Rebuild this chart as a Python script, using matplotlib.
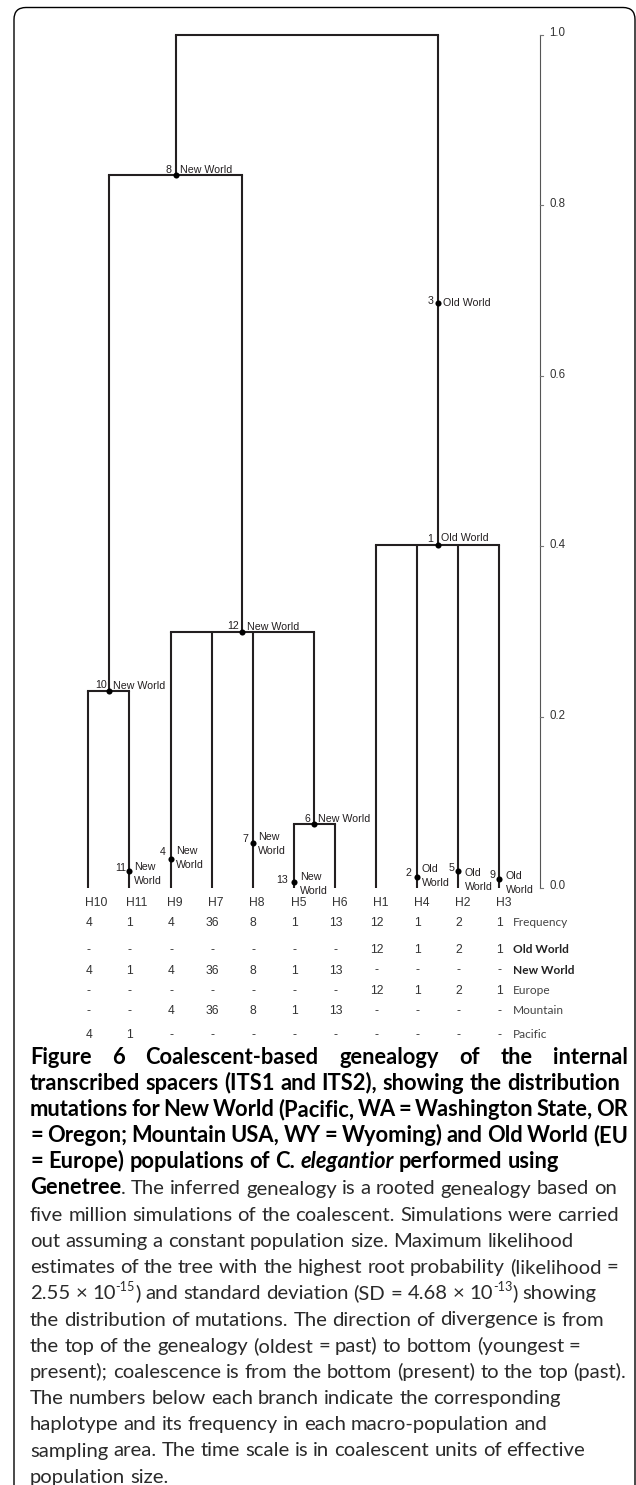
import matplotlib
matplotlib.use("Agg")
import matplotlib.pyplot as plt
from matplotlib import font_manager as fm
from matplotlib import transforms as mtransforms
from matplotlib.patches import FancyBboxPatch

W, H, DPI = 636, 1485, 100

# ---------------- data ----------------
tips = ["H10", "H11", "H9", "H7", "H8", "H5", "H6", "H1", "H4", "H2", "H3"]

node_names = ["root", "n8", "n10", "n12", "n6", "n1"]
node_heights = [1.0, 0.835, 0.231, 0.300, 0.074, 0.402]
node_children = [["n8", "n1"], ["n10", "n12"], ["H10", "H11"],
                 ["H9", "H7", "H8", "n6"], ["H5", "H6"], ["H1", "H4", "H2", "H3"]]

event_ids = [8, 10, 12, 6, 1, 3, 11, 4, 7, 13, 2, 5, 9]
event_branch = ["n8", "n10", "n12", "n6", "n1", "n1", "H11", "H9", "H8", "H5", "H4", "H2", "H3"]
event_heights = [0.835, 0.231, 0.300, 0.074, 0.402, 0.685, 0.019, 0.034, 0.0525, 0.006, 0.012, 0.0197, 0.0103]
event_regions = ["New World", "New World", "New World", "New World", "Old World", "Old World",
                 "New World", "New World", "New World", "New World", "Old World", "Old World", "Old World"]

time_ticks = [0.0, 0.2, 0.4, 0.6, 0.8, 1.0]

row_labels = ["Frequency", "Old World", "New World", "Europe", "Mountain", "Pacific"]
freq = [4, 1, 4, 36, 8, 1, 13, 12, 1, 2, 1]
old_world = [None, None, None, None, None, None, None, 12, 1, 2, 1]
new_world = [4, 1, 4, 36, 8, 1, 13, None, None, None, None]
europe = [None, None, None, None, None, None, None, 12, 1, 2, 1]
mountain = [None, None, 4, 36, 8, 1, 13, None, None, None, None]
pacific = [4, 1, None, None, None, None, None, None, None, None, None]

caption_lines = [
    ([("Figure 6 Coalescent-based genealogy of the internal", "b")], True),
    ([("transcribed spacers (ITS1 and ITS2), showing the distribution", "b")], False),
    ([("mutations for New World (Pacific, WA = Washington State, OR", "b")], True),
    ([("= Oregon; Mountain USA, WY = Wyoming) and Old World (EU", "b")], True),
    ([("= Europe) populations of ", "b"), ("C. ", "b"), ("elegantior", "bi"), (" performed using", "b")], False),
    ([("Genetree", "b"), (". The inferred genealogy is a rooted genealogy based on", "r")], False),
    ([("five million simulations of the coalescent. Simulations were carried", "r")], False),
    ([("out assuming a constant population size. Maximum likelihood", "r")], False),
    ([("estimates of the tree with the highest root probability (likelihood =", "r")], False),
    ([("2.55 \u00d7 10", "r"), ("-15", "s"), (") and standard deviation (SD = 4.68 \u00d7 10", "r"),
      ("-13", "s"), (") showing", "r")], False),
    ([("the distribution of mutations. The direction of divergence is from", "r")], False),
    ([("the top of the genealogy (oldest = past) to bottom (youngest =", "r")], False),
    ([("present); coalescence is from the bottom (present) to the top (past).", "r")], False),
    ([("The numbers below each branch indicate the corresponding", "r")], False),
    ([("haplotype and its frequency in each macro-population and", "r")], False),
    ([("sampling area. The time scale is in coalescent units of effective", "r")], False),
    ([("population size.", "r")], False),
]

# ---------------- layout ----------------
X0, DX = 88.3, 41.1      # pixel x of first tip, pixel spacing of tips
Y0, DY = 887.5, 852.8    # pixel y (from top) of time 0, pixels per time unit
AXIS_X = 11.0            # scale bar position in tip units

INK = "#231f20"
TREE_FONT = "Liberation Sans"
FS_T = 7.7               # tree label size (pt)
CAP_T = 0.716 * FS_T * DPI / 72.0

num_off = {8: (-4, 6), 10: (-2.3, 6.7), 12: (-3.7, 6), 6: (-3.5, 6.6), 1: (-4.3, 7), 3: (-4.6, 3.3),
           11: (-3.3, 4.3), 4: (-4.7, 7.6), 7: (-4.6, 4.4), 13: (-5.7, 3.3), 2: (-5.3, 4.6),
           5: (-4, 4), 9: (-4.3, 4.7)}
name_off = {8: (4, 6), 10: (3.7, 5.7), 12: (5, 5.4), 6: (4.1, 6), 1: (3.7, 7.7), 3: (5.7, 1.3),
            11: (5, 5, -9), 4: (5.3, 8.3, -5.7), 7: (5.4, 6.7, -7.3), 13: (6, 6.6, -7.7),
            2: (4.7, 9, -5.4), 5: (6.3, -1, -15), 9: (6.4, 3.7, -10.3)}

fig = plt.figure(figsize=(W / DPI, H / DPI), dpi=DPI)
fig.patch.set_facecolor("white")
ax = fig.add_axes([0, 0, 1, 1])
ax.set_xlim(-X0 / DX, (W - X0) / DX)
ax.set_ylim((Y0 - H) / DY, Y0 / DY)
ax.axis("off")

PX = mtransforms.Affine2D().scale(1, -1).translate(0, H)   # (x, y-from-top) px -> display
XPX = mtransforms.blended_transform_factory(ax.transData, PX)

# ---------------- tree ----------------
xpos = {t: float(i) for i, t in enumerate(tips)}
hgt = {t: 0.0 for t in tips}
for n, h in zip(node_names, node_heights):
    hgt[n] = h
for n, ch in reversed(list(zip(node_names, node_children))):
    xs = [xpos[c] for c in ch]
    xpos[n] = (min(xs) + max(xs)) / 2.0

LW = 1.5
for n, ch in zip(node_names, node_children):
    xs = [xpos[c] for c in ch]
    ax.plot([min(xs), max(xs)], [hgt[n], hgt[n]], color=INK, lw=LW, solid_capstyle="projecting")
    for c in ch:
        ax.plot([xpos[c], xpos[c]], [hgt[c], hgt[n]], color=INK, lw=LW, solid_capstyle="butt")

for eid, br, h, reg in zip(event_ids, event_branch, event_heights, event_regions):
    x = xpos[br]
    ax.plot(x, h, "o", ms=4.4, color="black", mec="none", zorder=5)
    ndx, ndy = num_off[eid]
    ax.annotate(str(eid), (x, h), xytext=(ndx, ndy - CAP_T / 2), textcoords="offset pixels",
                ha="right", va="baseline", fontsize=FS_T, family=TREE_FONT, color=INK)
    lay = name_off[eid]
    if len(lay) == 2:
        ax.annotate(reg, (x, h), xytext=(lay[0], lay[1] - CAP_T / 2), textcoords="offset pixels",
                    ha="left", va="baseline", fontsize=FS_T, family=TREE_FONT, color=INK)
    else:
        w1, w2 = reg.split(" ")
        ax.annotate(w1, (x, h), xytext=(lay[0], lay[1] - CAP_T / 2), textcoords="offset pixels",
                    ha="left", va="baseline", fontsize=FS_T, family=TREE_FONT, color=INK)
        ax.annotate(w2, (x, h), xytext=(lay[0], lay[2] - CAP_T / 2), textcoords="offset pixels",
                    ha="left", va="baseline", fontsize=FS_T, family=TREE_FONT, color=INK)

# ---------------- time scale ----------------
ax.plot([AXIS_X, AXIS_X], [min(time_ticks), max(time_ticks)], color="#555555", lw=0.8)
for t in time_ticks:
    ax.plot([AXIS_X, AXIS_X + 3.0 / DX], [t, t], color="#777777", lw=0.8)
    ax.annotate(f"{t:.1f}", (AXIS_X, t), xytext=(8.6, -1.7), textcoords="offset pixels",
                ha="left", va="baseline", fontsize=8.3, family=TREE_FONT, color="#333333")

# ---------------- tip labels and table ----------------
FS_N = 8.7
for i, t in enumerate(tips):
    ax.text(xpos[t] - 3.2 / DX, 906.0, t, transform=XPX, ha="left", va="baseline",
            fontsize=FS_N, family=TREE_FONT, color="#333333")

rows = [freq, old_world, new_world, europe, mountain, pacific]
row_y = [921.7, 948.3, 969.2, 990.0, 1010.0, 1033.8]
row_bold = [False, True, True, False, False, False]
for vals, yc, lab, bold in zip(rows, row_y, row_labels, row_bold):
    for i, v in enumerate(vals):
        s = "-" if v is None else str(v)
        ax.text(xpos[tips[i]] + 0.5 / DX, yc + 4.3, s, transform=XPX, ha="center", va="baseline",
                fontsize=FS_N, family=TREE_FONT, color="#333333")
    fig.text(513, yc + 4.3, lab, transform=PX, ha="left", va="baseline", fontsize=8.6,
             family="Lato", weight="bold" if bold else "normal", color="#222222" if bold else "#444444")

# ---------------- caption ----------------
def make_fp(kind, fs_h, fs_b):
    if kind == "b":
        return fm.FontProperties(family="Lato", weight="bold", size=fs_h)
    if kind == "bi":
        return fm.FontProperties(family="Lato", weight="bold", style="italic", size=fs_h)
    if kind == "s":
        return fm.FontProperties(family="Lato", weight="normal", size=fs_b * 0.62)
    return fm.FontProperties(family="Lato", weight="normal", size=fs_b)

renderer = fig.canvas.get_renderer()

def tw(s, fp):
    return renderer.get_text_width_height_descent(s, fp, ismath=False)[0]

CAP_X0 = 30.0
fs_head = 10.0 * 590.0 / tw(caption_lines[1][0][0][0], make_fp("b", 10, 10))
fp10 = make_fp("r", 10, 10)
fs_body = 10.0 * min(597.0 / tw(caption_lines[6][0][0][0], fp10),
                     599.0 / tw(caption_lines[8][0][0][0], fp10),
                     601.0 / tw(caption_lines[12][0][0][0], fp10),
                     594.0 / tw(caption_lines[10][0][0][0], fp10))

BASE0, LEAD = 1063.5, 26.2
for li, (segs, justify) in enumerate(caption_lines):
    baseline = BASE0 + li * LEAD
    words = [[]]
    for text, kind in segs:
        parts = text.split(" ")
        for i, p in enumerate(parts):
            if i > 0:
                words.append([])
            if p:
                words[-1].append((p, kind))
    words = [w for w in words if w]
    ww = [sum(tw(p, make_fp(k, fs_head, fs_body)) for p, k in w) for w in words]
    gap = None
    if justify and len(words) > 1:
        gap = (628.0 - CAP_X0 - sum(ww)) / (len(words) - 1)
    x = CAP_X0
    for wi, w in enumerate(words):
        for p, k in w:
            fp = make_fp(k, fs_head, fs_body)
            dy = 0.42 * fs_body * DPI / 72.0 if k == "s" else 0.0
            col = "black" if k in ("b", "bi") else "#2a2a2a"
            fig.text(x, baseline - dy, p, fontproperties=fp, transform=PX, ha="left",
                     va="baseline", color=col)
            x += tw(p, fp)
        lastk = w[-1][1]
        if lastk == "s":
            lastk = "r"
        fpk = make_fp(lastk, fs_head, fs_body)
        sp = tw("a a", fpk) - tw("aa", fpk)
        x += gap if gap is not None else sp

# ---------------- frame ----------------
frame = FancyBboxPatch((14, -40), 635 - 14, H - 7.5 + 40, boxstyle="round,pad=0,rounding_size=12",
                       transform=mtransforms.IdentityTransform(), fill=False, ec="black", lw=1.0)
fig.add_artist(frame)

fig.savefig("out.png", dpi=DPI, facecolor="white")
